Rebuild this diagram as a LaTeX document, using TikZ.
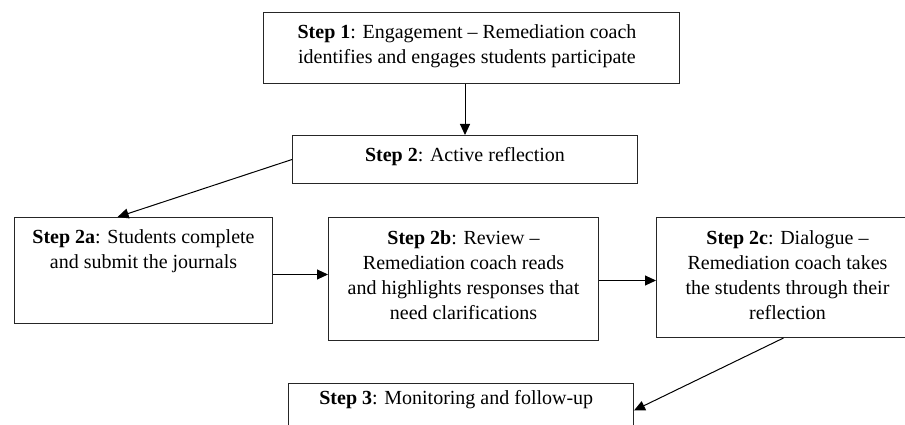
\documentclass[tikz,border=0pt]{standalone}
\usepackage{fontspec}
\setmainfont{Liberation Serif}
\usetikzlibrary{arrows.meta,calc}
\begin{document}
\begin{tikzpicture}[x=1pt,y=-1pt,
  box/.style={draw=black!85,line width=1pt,inner sep=0pt,anchor=north west},
  txt/.style={inner sep=0pt,align=center,anchor=base,font=\fontsize{20}{25}\selectfont},
  arr/.style={line width=1pt,-{Triangle[length=11pt,width=10pt]}}]
\useasboundingbox (0,0) rectangle (905,425);
\fill[white] (0,0) rectangle (905,425);
% boxes
\node[box,minimum width=416pt,minimum height=71pt] (s1) at (263,12) {};
\node[box,minimum width=345pt,minimum height=48pt] (s2) at (292,135) {};
\node[box,minimum width=258pt,minimum height=106pt] (s2a) at (14,217) {};
\node[box,minimum width=270pt,minimum height=123pt] (s2b) at (328,217) {};
\node[box,minimum width=262pt,minimum height=120pt] (s2c) at (656,217) {};
\node[box,minimum width=345pt,minimum height=48pt] (s3) at (288,383) {};
% texts (base anchor = last line's baseline)
\node[txt] (t1) at ([xshift=-4.5pt,yshift=-51.5pt]s1.north) {\textbf{Step 1}: Engagement – Remediation coach\\identifies and engages students participate};
\node[txt] (t2) at ([yshift=-26.5pt]s2.north) {\textbf{Step 2}: Active reflection};
\node[txt] (t2a) at ([yshift=-51.5pt]s2a.north) {\textbf{Step 2a}: Students complete\\and submit the journals};
\node[txt] (t2b) at ([yshift=-102pt]s2b.north) {\textbf{Step 2b}: Review –\\Remediation coach reads\\and highlights responses that\\need clarifications};
\node[txt] (t2c) at ([yshift=-102.5pt]s2c.north) {\textbf{Step 2c}: Dialogue –\\Remediation coach takes\\the students through their\\reflection};
\node[txt] (t3) at ([xshift=-4.7pt,yshift=-21pt]s3.north) {\textbf{Step 3}: Monitoring and follow-up};
% connectors
\draw[arr] (s2.north |- s1.south) -- (s2.north);
\draw[arr] (s2.west) -- ($(s2a.north west)!0.4!(s2a.north east)$);
\draw[arr] ([yshift=-4pt]s2a.east) -- ([yshift=-4pt]s2a.east -| s2b.west);
\draw[arr] ([yshift=-1.5pt]s2b.east) -- ([yshift=-1.5pt]s2b.east -| s2c.west);
\draw[arr] ([xshift=-4pt]s2c.south) -- ([yshift=-3pt]s3.east);
\end{tikzpicture}
\end{document}
